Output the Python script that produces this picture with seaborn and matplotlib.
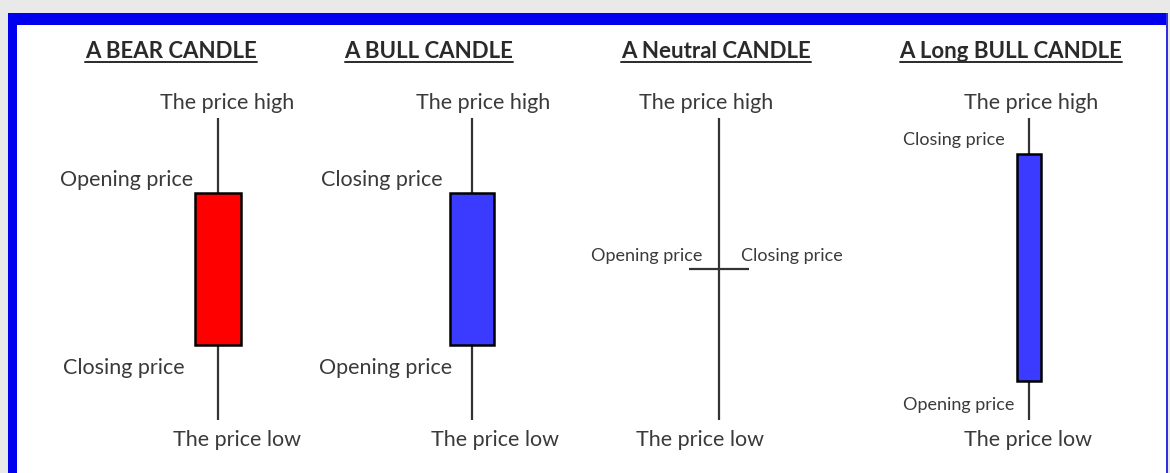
import matplotlib
matplotlib.use("Agg")
import matplotlib.pyplot as plt
from matplotlib.patches import Rectangle
from matplotlib.lines import Line2D
from matplotlib.transforms import IdentityTransform
import seaborn as sns

# candle data (price scale: low=0, high=100)
titles = ["A BEAR CANDLE", "A BULL CANDLE", "A Neutral CANDLE", "A Long BULL CANDLE"]
highs = [100, 100, 100, 100]
lows = [0, 0, 0, 0]
opens = [75, 25, 50, 13]
closes = [25, 75, 50, 88]

# layout (pixels)
W, H = 1170, 473
x_centers = [218, 472, 719, 1029]
body_w = [46, 44, 60, 24]
title_x = [171, 429, 716, 1011]
body_colors = ["#ff0000", "#3b3bff", "#3b3bff", "#3b3bff"]

sns.set_theme(style="white")
plt.rcParams["font.family"] = ["Lato", "DejaVu Sans"]

fig = plt.figure(figsize=(W / 100, H / 100), dpi=100)
fig.patch.set_facecolor("#e9e9e9")

# frame
fig.add_artist(Rectangle((8 / W, 0), (1167 - 8) / W, (H - 13) / H,
                         transform=fig.transFigure, facecolor="white",
                         edgecolor="none", zorder=0))
fig.add_artist(Rectangle((8 / W, 0), 9 / W, (H - 13) / H,
                         transform=fig.transFigure, facecolor="#0000ee",
                         edgecolor="none", zorder=1))
fig.add_artist(Rectangle((8 / W, (H - 25) / H), (1167 - 8) / W, 12 / H,
                         transform=fig.transFigure, facecolor="#0000ee",
                         edgecolor="none", zorder=1))
fig.add_artist(Rectangle((1166 / W, 0), 2 / W, (H - 13) / H,
                         transform=fig.transFigure, facecolor="#3030e0",
                         edgecolor="none", zorder=1))

ax = fig.add_axes([0, 0, 1, 1])
ax.set_facecolor("none")
ax.set_xlim(0, W)
scale = 3.02  # pixels per price unit
ax.set_ylim((420 - H) / scale, 420 / scale)
ax.axis("off")

wick_c = "#333333"
for i in range(4):
    xc = x_centers[i]
    ax.vlines(xc, lows[i], highs[i], color=wick_c, lw=1.6, zorder=2)
    lo, hi = min(opens[i], closes[i]), max(opens[i], closes[i])
    if hi > lo:
        ax.bar(xc, hi - lo, bottom=lo, width=body_w[i], color=body_colors[i],
               edgecolor="black", linewidth=1.8, zorder=3)
    else:
        ax.hlines(lo, xc - body_w[i] / 2, xc + body_w[i] / 2, color=wick_c,
                  lw=1.6, zorder=3)

# labels: (candle, price kind, text, dx, dy, ha, size)
big, small = 15.5, 13
labels = [
    (0, "high", "The price high", 9, 15, "center", big),
    (0, "open", "Opening price", -25, 14, "right", big),
    (0, "close", "Closing price", -33, -23, "right", big),
    (0, "low", "The price low", 19, -20, "center", big),
    (1, "high", "The price high", 11, 15, "center", big),
    (1, "close", "Closing price", -29, 14, "right", big),
    (1, "open", "Opening price", -20, -23, "right", big),
    (1, "low", "The price low", 23, -20, "center", big),
    (2, "high", "The price high", -13, 15, "center", big),
    (2, "open", "Opening price", -17, 13, "right", small),
    (2, "close", "Closing price", 22, 13, "left", small),
    (2, "low", "The price low", -19, -20, "center", big),
    (3, "high", "The price high", 2, 15, "center", big),
    (3, "close", "Closing price", -24, 14, "right", small),
    (3, "open", "Opening price", -15, -24, "right", small),
    (3, "low", "The price low", -1, -20, "center", big),
]
prices = {"high": highs, "low": lows, "open": opens, "close": closes}
for i, kind, txt, dx, dy, ha, sz in labels:
    ax.annotate(txt, xy=(x_centers[i], prices[kind][i]), xytext=(dx, dy),
                textcoords="offset pixels", ha=ha, va="center",
                fontsize=sz, color="#3a3a3a")

# underlined titles
title_texts = []
for i, t in enumerate(titles):
    title_texts.append(fig.text(title_x[i] / W, 1 - 51 / H, t, ha="center",
                                va="center", fontsize=16, fontweight="bold",
                                color="#2a2a2a"))
fig.canvas.draw()
for t in title_texts:
    bb = t.get_window_extent()
    fig.add_artist(Line2D([bb.x0, bb.x1], [H - 62, H - 62], color="#2a2a2a",
                          lw=1.4, transform=IdentityTransform()))

fig.savefig("out.png", dpi=100, facecolor=fig.get_facecolor())
